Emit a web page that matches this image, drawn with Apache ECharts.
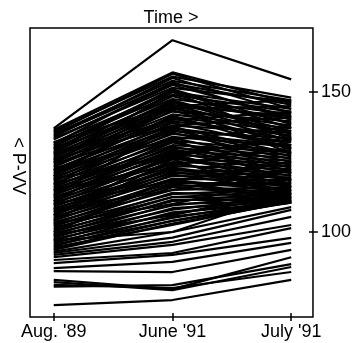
<!DOCTYPE html>
<html><head><meta charset="utf-8">
<script src="https://cdn.jsdelivr.net/npm/echarts@6/dist/echarts.min.js"></script>
<style>html,body{margin:0;padding:0;background:#fff}#c{width:354px;height:343px}</style>
</head><body><div id="c"></div>
<script>
const categories = ["Aug. '89", "June '91", "July '91"];
const yTicks = [100, 150];
const augValues = [137,136.5,136,135.5,135,134.5,134,133.5,133,132,131.5,131,130.5,130,129.5,129,128.5,128,127.5,127,126.5,126,125.5,125,124.5,124,123.5,123,122.5,122,121.5,121,120.5,120,119.5,119,118.5,118,117.5,117,116.5,116,115.5,115,114.5,114,113.5,113,112.5,112,111.5,111,110.5,110,109.5,109,108.5,108,107.5,107,106.5,106,105.5,105,104.5,104,103.5,103,102.5,102,101.5,101,100.5,100,99.5,99,98.5,98,97.5,97,96.5,96,95.5,95,94.5,94,
132,128,125,120,117,113,110,106,103,100,97,115,122,126,108,104,99,111,119,130,
93.6,93,92.5,91.8,91,90,88.9,87.1,86,82.9,82.1,81.1,80.5,73.9];
const juneValues = [168.5,157,155.5,156.5,154,153,155,151.5,152.5,150,153.5,149,151,147.5,150.5,146,148.5,145,147,144,146.5,143,145.5,142,144.5,141,139.5,143.5,138,140.5,137,141.5,136,139,135,137.5,134,136.5,132.5,135.5,131,133.5,130,132,129,130.5,127.5,129.5,126,128.5,125,127,123.5,126.5,122,124.5,121,123,120,122.5,119,121.5,117.5,120.5,116.5,118.5,115,117,113.5,116,112.5,114,111,112.5,109.5,111.5,108,110,106.5,108.5,105,107,104,105.5,102.5,104,
145,140,150,145,128,138,118,128,110,119,100,124,133,138,115,126,106,133,127,144,
103,100,98,96.5,95.4,92.5,91.8,89.3,85.7,79.6,79.2,80,81,75.7];
const julyValues = [154.5,146,148,144,147,145.5,142.5,146.5,141,144,140,143,138.5,142,137,140.5,139,141.5,136,138,135,139.5,134,137,132.5,136,134.5,131,135.5,133,132,129.5,133.5,130,131,128,130.5,127,129,126,128.5,125,127.5,124,126.5,123,125.5,122,124.5,121,123.5,120,122.5,119,121.5,118.5,120.5,117.5,119.5,116.5,118.5,116,117.5,115,117,114.5,116,113.5,115.5,113,114.5,112.5,114,112,113.5,111.5,113,111,112.5,111,112,110.5,111.5,110.5,111,110.5,
147,143,133,128,133,121,125,116,119,110.5,114,130,137.5,141,122,112,115,118,134,145,
110.7,108.9,107.9,105.4,102.5,101.4,97.9,96.1,93.6,91,87.5,85.7,88.5,82.9];

const series = augValues.map((a, i) => ({
  type: 'line',
  data: [[0, a], [1, juneValues[i]], [2, julyValues[i]]],
  symbol: 'none',
  silent: true,
  lineStyle: { color: '#000', width: 2.2 },
  xAxisIndex: 0, yAxisIndex: 0
}));

const chart = echarts.init(document.getElementById('c'), null, { renderer: 'canvas' });
const font = '"Liberation Sans", Arial, Helvetica, sans-serif';
const tickStyle = { color: '#000', width: 1.5 };
chart.setOption({
  animation: false,
  backgroundColor: '#fff',
  grid: { left: 30, right: 38, top: 28, bottom: 26, show: true, borderColor: '#000', borderWidth: 1.5, backgroundColor: 'transparent' },
  xAxis: [
    { type: 'value', min: -0.2, max: 2.1833, position: 'bottom',
      axisLine: { show: false, onZero: false }, splitLine: { show: false },
      axisTick: { show: true, inside: false, length: 4, customValues: [0, 1, 2], lineStyle: tickStyle },
      axisLabel: { customValues: [0, 1, 2], formatter: v => categories[Math.round(v)], color: '#000', fontSize: 18, fontFamily: font, margin: 6 } },
    { type: 'value', min: -0.2, max: 2.1833, position: 'bottom',
      axisLine: { show: false, onZero: false }, splitLine: { show: false },
      axisTick: { show: true, inside: true, length: 4, customValues: [0, 1, 2], lineStyle: tickStyle },
      axisLabel: { show: false } }
  ],
  yAxis: [
    { type: 'value', min: 69.64, max: 172.86, position: 'right',
      axisLine: { show: false, onZero: false }, splitLine: { show: false },
      axisTick: { show: true, inside: false, length: 5, customValues: yTicks, lineStyle: tickStyle },
      axisLabel: { customValues: yTicks, color: '#000', fontSize: 18, fontFamily: font, margin: 8 } },
    { type: 'value', min: 69.64, max: 172.86, position: 'right',
      axisLine: { show: false, onZero: false }, splitLine: { show: false },
      axisTick: { show: true, inside: true, length: 4, customValues: yTicks, lineStyle: tickStyle },
      axisLabel: { show: false } }
  ],
  graphic: [
    { type: 'text', x: 171, y: 18, style: { text: 'Time >', fill: '#000', font: '18px ' + font, textAlign: 'center', textVerticalAlign: 'middle' } },
    { type: 'text', x: 18, y: 166, rotation: -Math.PI / 2, style: { text: '< P-VV', fill: '#000', font: '18px ' + font, textAlign: 'center', textVerticalAlign: 'middle' } }
  ],
  series: series
});
</script></body></html>
